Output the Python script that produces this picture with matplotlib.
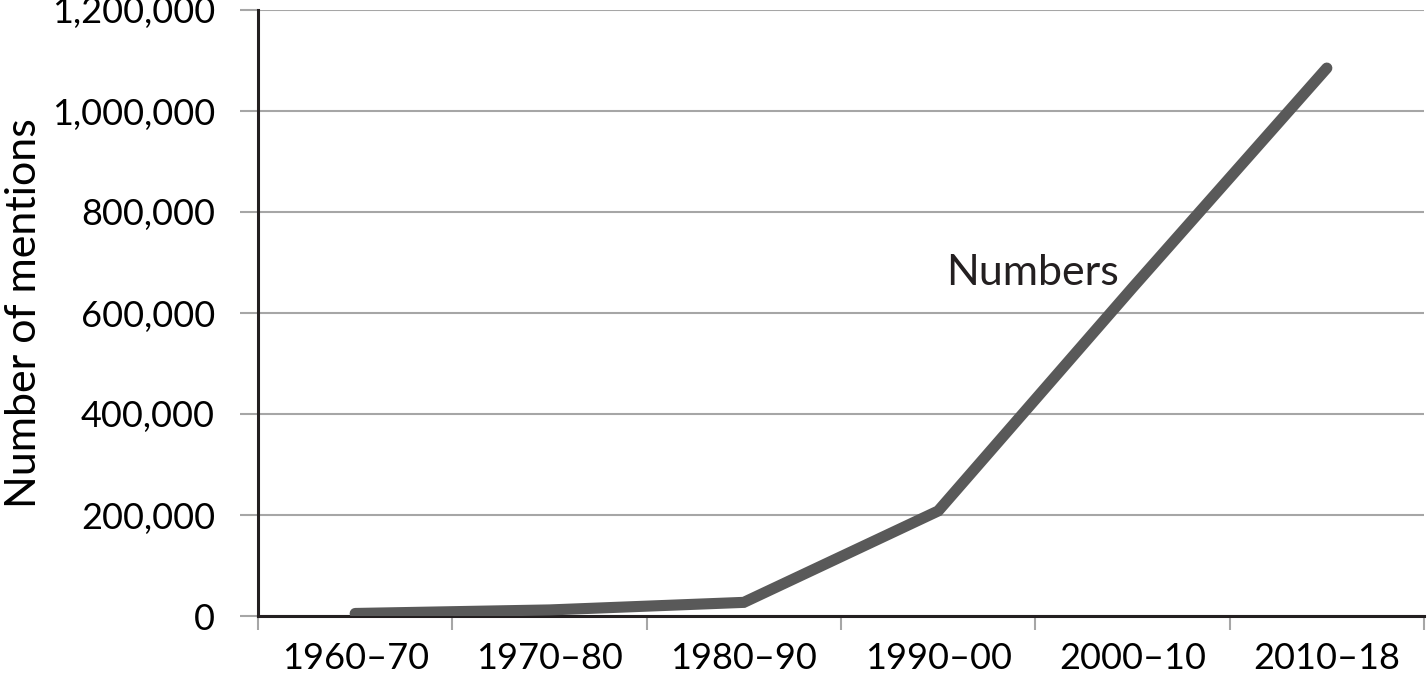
import matplotlib.pyplot as plt
from matplotlib.ticker import FuncFormatter

periods = ['1960–70', '1970–80', '1980–90', '1990–00', '2000–10', '2010–18']
mentions = [5000, 12000, 27000, 208000, 650000, 1085000]

plt.rcParams['font.family'] = ['Lato', 'DejaVu Sans']

fig = plt.figure(figsize=(14.27, 6.77), dpi=100)
ax = fig.add_axes([258 / 1427, 61 / 677, 1166 / 1427, 606 / 677])

x = list(range(len(periods)))
ax.plot(x, mentions, color='#595959', linewidth=8, solid_capstyle='round',
        solid_joinstyle='miter', zorder=3)

ax.set_xlim(-0.5, len(periods) - 0.5)
ax.set_ylim(0, 1200000)
ax.set_yticks(range(0, 1200001, 200000))
ax.yaxis.set_major_formatter(FuncFormatter(lambda v, p: f'{int(v):,}'))
ax.grid(axis='y', color='#a6a6a6', linewidth=1.5, zorder=1)

ax.set_xticks(x)
ax.set_xticklabels(periods)
ax.set_xticks([i - 0.5 for i in range(len(periods) + 1)], minor=True)
ax.tick_params(axis='x', which='major', length=0, pad=19, labelsize=26)
ax.tick_params(axis='x', which='minor', length=10, width=1.5, color='#a6a6a6')
ax.tick_params(axis='y', length=13, width=1.5, color='#a6a6a6', labelsize=26, pad=18)

for s in ['top', 'right']:
    ax.spines[s].set_visible(False)
ax.spines['left'].set_linewidth(2.2)
ax.spines['bottom'].set_linewidth(2.2)
ax.spines['left'].set_color('#231f20')
ax.spines['bottom'].set_color('#231f20')

ax.set_ylabel('Number of mentions', fontsize=31, labelpad=6)
ax.text(3.04, 655000, 'Numbers', fontsize=31, color='#231f20', va='baseline')

fig.savefig('out.png', dpi=100)
